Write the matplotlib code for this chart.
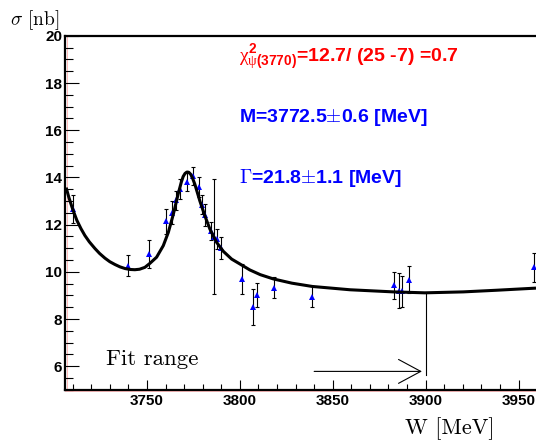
import numpy as np
import matplotlib
matplotlib.use("Agg")
import matplotlib.pyplot as plt
from matplotlib.ticker import MultipleLocator
from matplotlib.transforms import offset_copy

plt.rcParams["mathtext.fontset"] = "custom"
plt.rcParams["mathtext.rm"] = "Liberation Sans:bold"
plt.rcParams["mathtext.bf"] = "Liberation Sans:bold"
plt.rcParams["mathtext.it"] = "Liberation Serif"

# Measured cross section (W in MeV, sigma in nb)
energy = [3710.0, 3739.6, 3751.2, 3760.0, 3763.6, 3765.7, 3767.8, 3771.4,
          3774.9, 3778.0, 3779.5, 3781.0, 3784.4, 3786.3, 3787.8, 3789.8,
          3801.0, 3807.2, 3809.4, 3818.2, 3839.0, 3883.1, 3885.8, 3887.2,
          3891.2, 3958.3]
sigma = [12.68, 10.26, 10.76, 12.14, 12.51, 13.03, 13.51, 13.81,
         14.06, 13.60, 12.85, 12.40, 11.74, 11.49, 11.38, 11.00,
         9.70, 8.51, 9.03, 9.32, 8.95, 9.43, 9.19, 9.18,
         9.67, 10.19]
sigma_err = [0.59, 0.44, 0.58, 0.54, 0.49, 0.39, 0.44, 0.37,
             0.37, 0.42, 0.39, 0.46, 0.37, 2.45, 0.42, 0.46,
             0.63, 0.75, 0.51, 0.45, 0.43, 0.57, 0.74, 0.66,
             0.58, 0.62]

# Fitted line shape
fit_energy = [3706.5, 3708.0, 3709.6, 3711.0, 3712.3, 3714.5, 3716.6, 3719.0,
              3722.0, 3724.5, 3727.4, 3730.0, 3732.8, 3735.5, 3738.2, 3741.0,
              3743.5, 3746.0, 3748.9, 3751.6, 3755.2, 3758.8, 3761.5, 3764.2,
              3766.8, 3768.5, 3769.5, 3770.5, 3771.5, 3772.5, 3773.5, 3774.5,
              3775.8, 3778.5, 3781.2, 3783.9, 3787.5, 3791.1, 3795.6, 3800.1,
              3805.4, 3811.0, 3818.0, 3828.0, 3839.0, 3859.3, 3882.6, 3899.6,
              3920.2, 3938.2, 3959.4]
fit_sigma = [13.57, 13.15, 12.76, 12.45, 12.18, 11.83, 11.54, 11.27,
             10.99, 10.78, 10.58, 10.43, 10.31, 10.21, 10.14, 10.10,
             10.09, 10.11, 10.19, 10.36, 10.62, 11.11, 11.67, 12.44,
             13.30, 13.80, 14.04, 14.17, 14.23, 14.22, 14.14, 13.98,
             13.71, 13.00, 12.37, 11.81, 11.25, 10.87, 10.54, 10.33,
             10.08, 9.88, 9.70, 9.52, 9.38, 9.24, 9.15, 9.11,
             9.15, 9.22, 9.31]

# Fit range marker
fit_hi = 3900
fit_arrow_start = 3840
fit_arrow_y = 5.78
fit_line_bottom = 5.61
fit_line_top = 9.11

x_ticks = [3750, 3800, 3850, 3900, 3950]
y_ticks = [6, 8, 10, 12, 14, 16, 18, 20]

W, H = 536, 440
fig = plt.figure(figsize=(W / 100, H / 100), dpi=100)
ax = fig.add_axes([65 / W, 1 - 389.8 / H, 1 - 65 / W, (389.8 - 35.9) / H])
ax.set_xlim(3705.9, 3959.4)
ax.set_ylim(5, 20)

ax.errorbar(energy, sigma, yerr=sigma_err, fmt="none", ecolor="black",
            elinewidth=0.8, capsize=1.3, capthick=0.8, zorder=2)
ax.plot(energy, sigma, linestyle="none", marker="^", markersize=4.8,
        color="#0000ff", markeredgewidth=0, zorder=3)
ax.plot(fit_energy, fit_sigma, color="black", linewidth=2.2, zorder=4,
        solid_capstyle="butt", solid_joinstyle="round")

ax.plot([fit_hi, fit_hi], [fit_line_bottom, fit_line_top], color="black",
        linewidth=0.8, zorder=4)
ax.annotate("", xy=(fit_hi - 2, fit_arrow_y), xytext=(fit_arrow_start, fit_arrow_y),
            arrowprops=dict(arrowstyle="->,head_length=16,head_width=8.6",
                            mutation_scale=1, color="black", lw=0.8,
                            shrinkA=0, shrinkB=0))
ax.text(3727.9, 6.07, "Fit range", family="cmr10", fontsize=16.5,
        ha="left", va="baseline")

for side in ["left", "bottom", "top"]:
    ax.spines[side].set_linewidth(1.6)
ax.spines["right"].set_visible(False)

# thin red frame line just beside the black axes
left_tr = offset_copy(ax.transAxes, fig=fig, x=1.6, y=0, units="dots")
bottom_tr = offset_copy(ax.transAxes, fig=fig, x=0, y=-1.6, units="dots")
ax.plot([0, 0], [0, 1], transform=left_tr, color="#ff6060", lw=0.5,
        alpha=0.6, clip_on=False, zorder=1)
ax.plot([0, 1], [0, 0], transform=bottom_tr, color="#ff6060", lw=0.5,
        alpha=0.6, clip_on=False, zorder=1)

ax.set_xticks(x_ticks, [str(t) for t in x_ticks])
ax.set_yticks(y_ticks, [str(t) for t in y_ticks])
ax.xaxis.set_minor_locator(MultipleLocator(10))
ax.yaxis.set_minor_locator(MultipleLocator(0.5))
ax.tick_params(axis="x", which="major", direction="in", length=7.4, width=0.8, pad=3)
ax.tick_params(axis="x", which="minor", direction="in", length=4.2, width=0.8)
ax.tick_params(axis="y", which="major", direction="in", length=10.4, width=0.8, pad=2)
ax.tick_params(axis="y", which="minor", direction="in", length=5.4, width=0.8)
ax.tick_params(top=False, right=False, which="both")
for lab in ax.get_xticklabels() + ax.get_yticklabels():
    lab.set_fontfamily("Liberation Sans")
    lab.set_fontweight("bold")
    lab.set_fontsize(11)


def fpos(x, y):
    return x / W, 1 - y / H


fig.text(*fpos(10.3, 25.0), r"$\sigma$ [nb]", family="cmr10", math_fontfamily="cm",
         fontsize=14, ha="left", va="baseline")
fig.text(*fpos(494.7, 434.0), "W [MeV]", family="cmr10", fontsize=16,
         ha="right", va="baseline")

fig.text(*fpos(239.3, 61.5), r"$\chi^{2}_{\psi(3770)}$=12.7/ (25 -7) =0.7",
         family="Liberation Sans", fontweight="bold", fontsize=14,
         color="#ff0000", math_fontfamily="custom", ha="left", va="baseline")
fig.text(*fpos(239.3, 122.4), r"M=3772.5$\pm$0.6 [MeV]",
         family="Liberation Sans", fontweight="bold", fontsize=14,
         color="#0000ff", math_fontfamily="cm", ha="left", va="baseline")
fig.text(*fpos(239.3, 182.9), r"$\Gamma$=21.8$\pm$1.1 [MeV]",
         family="Liberation Sans", fontweight="bold", fontsize=14,
         color="#0000ff", math_fontfamily="cm", ha="left", va="baseline")

fig.savefig("out.png", dpi=100)
